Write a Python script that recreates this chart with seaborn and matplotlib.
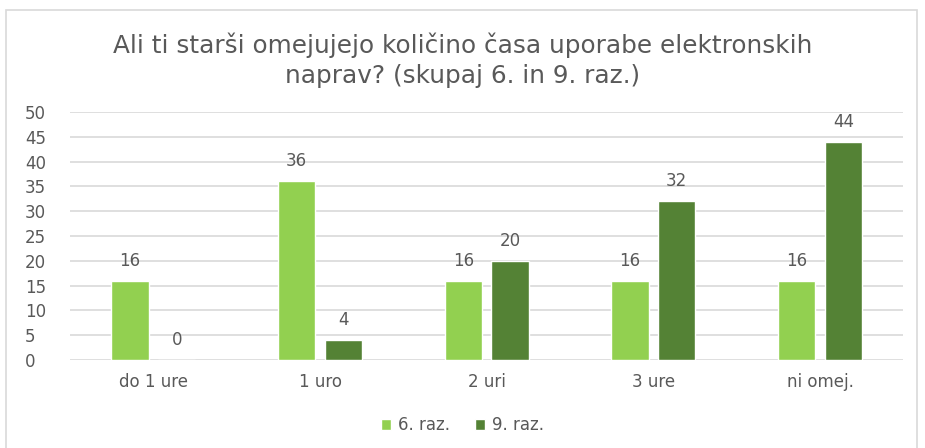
import numpy as np
import pandas as pd
import matplotlib.pyplot as plt
import seaborn as sns
from matplotlib.patches import Rectangle

# data
categories = ['do 1 ure', '1 uro', '2 uri', '3 ure', 'ni omej.']
series = ['6. raz.', '9. raz.']
vals_6 = [16, 36, 16, 16, 16]
vals_9 = [0, 4, 20, 32, 44]
colors = ['#92D050', '#548235']

df = pd.DataFrame({
    'kat': categories * 2,
    'razred': [series[0]] * 5 + [series[1]] * 5,
    'vrednost': vals_6 + vals_9,
})

sns.set_style('white')
plt.rcParams['font.family'] = ['DejaVu Sans']
gray = '#595959'

fig = plt.figure(figsize=(9.25, 4.48), dpi=100)
ax = fig.add_axes([0.0757, 0.1964, 0.901, 0.5536])

sns.barplot(data=df, x='kat', y='vrednost', hue='razred', palette=colors,
            saturation=1, width=0.56, gap=0.2, ax=ax, legend=True)

ax.set_ylim(0, 50)
ax.set_yticks(range(0, 51, 5))
ax.set_xlim(-0.5, 4.5)
ax.yaxis.grid(True, color='#D9D9D9', linewidth=1.2)
ax.set_axisbelow(True)
for s in ax.spines.values():
    s.set_visible(False)
ax.tick_params(axis='both', length=0, colors=gray, labelsize=12)
ax.tick_params(axis='x', pad=9)
ax.tick_params(axis='y', pad=32.5)
for lbl in ax.get_yticklabels():
    lbl.set_horizontalalignment('left')
ax.set_xlabel('')
ax.set_ylabel('')

for cont in ax.containers:
    ax.bar_label(cont, fmt='%d', padding=8, color=gray, fontsize=12)

handles, labels = ax.get_legend_handles_labels()
ax.get_legend().remove()
fig.legend(handles, labels, loc='center', bbox_to_anchor=(0.5, 0.051), ncol=2, frameon=False,
           fontsize=12, labelcolor=gray, handlelength=0.6, handleheight=0.6,
           columnspacing=1.5, handletextpad=0.4)

fig.text(0.5, 0.865, 'Ali ti starši omejujejo količino časa uporabe elektronskih\nnaprav? (skupaj 6. in 9. raz.)',
         ha='center', va='center', fontsize=17.8, color=gray, linespacing=1.3)

fig.patches.append(Rectangle((0.006, -0.05), 0.985, 1.027, transform=fig.transFigure,
                             fill=False, edgecolor='#D9D9D9', linewidth=1.2))

plt.savefig('out.png', dpi=100)
